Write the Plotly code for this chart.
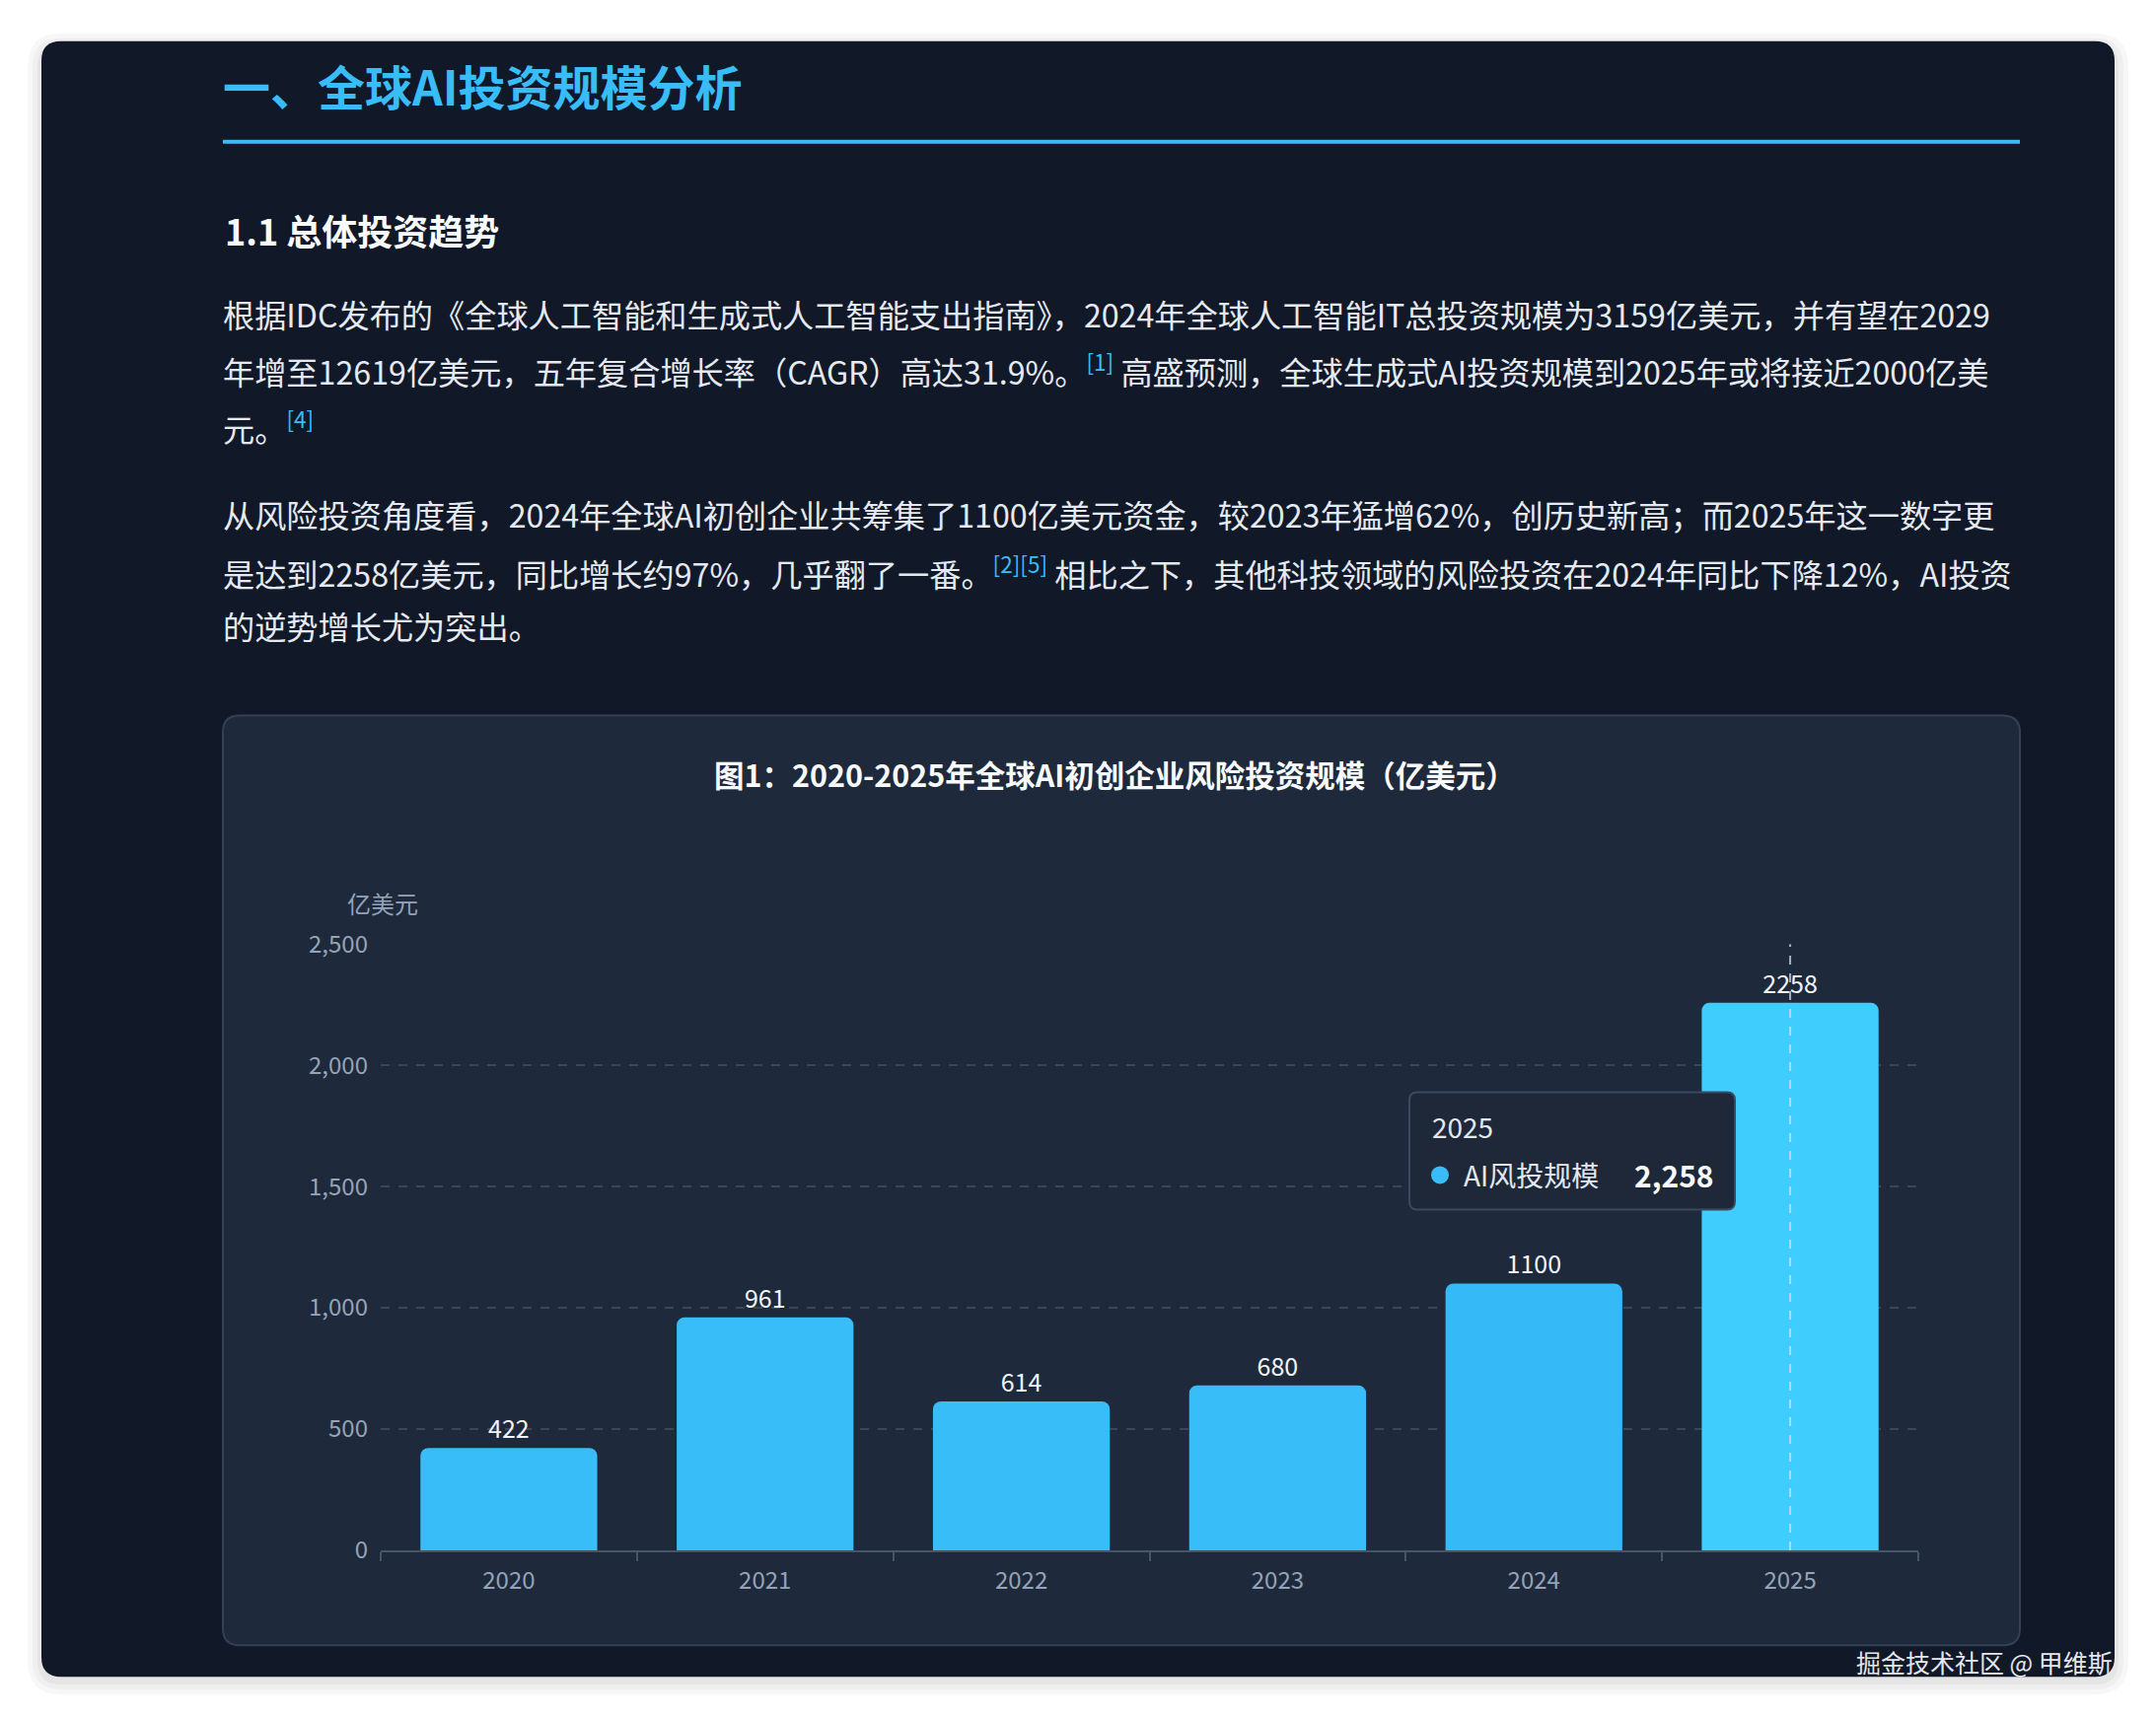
import plotly.graph_objects as go

# the page body adds an 8px margin on every side, so the figure is made
# 16px smaller than the window and the layout is shifted back by 8px
PAGE_W, PAGE_H = 2186, 1742
OFF = 8
W, H = PAGE_W - 2 * OFF, PAGE_H - 2 * OFF
# vertical correction measured from the rendered page
Y_SHIFT, Y_SCALE = 20.35, 0.98

# chart data
years = ["2020", "2021", "2022", "2023", "2024", "2025"]
values = [422, 961, 614, 680, 1100, 2258]
bar_colors = ["#38bdf8", "#38bdf8", "#38bdf8", "#38bdf8", "#36b9f7", "#3ecdfd"]
y_ticks = [0, 500, 1000, 1500, 2000, 2500]
series_name = "AI风投规模"

page_title = "一、全球AI投资规模分析"
section_title = "1.1 总体投资趋势"
chart_title = "图1：2020-2025年全球AI初创企业风险投资规模（亿美元）"
unit_label = "亿美元"
watermark = "掘金技术社区 @ 甲维斯"

BLUE = "#38bdf8"


def ref(n):
    return f"<sup><span style='color:{BLUE}'>{n}</span></sup>"


para_lines = [
    "根据IDC发布的《全球人工智能和生成式人工智能支出指南》，2024年全球人工智能IT总投资规模为3159亿美元，并有望在2029",
    "年增至12619亿美元，五年复合增长率（CAGR）高达31.9%。" + ref("[1]") + " 高盛预测，全球生成式AI投资规模到2025年或将接近2000亿美",
    "元。" + ref("[4]"),
    "从风险投资角度看，2024年全球AI初创企业共筹集了1100亿美元资金，较2023年猛增62%，创历史新高；而2025年这一数字更",
    "是达到2258亿美元，同比增长约97%，几乎翻了一番。" + ref("[2][5]") + " 相比之下，其他科技领域的风险投资在2024年同比下降12%，AI投资",
    "的逆势增长尤为突出。",
]
para_y = [318, 375, 433, 521, 580, 634]


def px(x):
    return (x - OFF) / W


def py(y):
    y = (y - Y_SHIFT) / Y_SCALE
    return 1 - (y - OFF) / H


def rounded_rect(x0, y0, x1, y1, r):
    return (f"M {px(x0 + r)},{py(y0)} L {px(x1 - r)},{py(y0)} "
            f"Q {px(x1)},{py(y0)} {px(x1)},{py(y0 + r)} "
            f"L {px(x1)},{py(y1 - r)} Q {px(x1)},{py(y1)} {px(x1 - r)},{py(y1)} "
            f"L {px(x0 + r)},{py(y1)} Q {px(x0)},{py(y1)} {px(x0)},{py(y1 - r)} "
            f"L {px(x0)},{py(y0 + r)} Q {px(x0)},{py(y0)} {px(x0 + r)},{py(y0)} Z")


fig = go.Figure()

fig.add_trace(go.Bar(
    x=years, y=values, name=series_name,
    marker=dict(color=bar_colors, cornerradius=8, line=dict(width=0)),
    text=[str(v) for v in values], textposition="outside", cliponaxis=False,
    textfont=dict(color="#f1f5f9", size=25),
    hoverinfo="skip",
))

# axis pointer on the hovered category
fig.add_trace(go.Scatter(
    x=[years[-1], years[-1]], y=[0, y_ticks[-1]], mode="lines",
    line=dict(color="rgba(210,225,240,0.75)", width=2, dash="dash"),
    hoverinfo="skip",
))

shapes = []
# card shadow
for i, a in enumerate([0.03, 0.03, 0.04]):
    g = 14 - i * 5
    shapes.append(dict(type="path", xref="paper", yref="paper", layer="below",
                       path=rounded_rect(42 - g, 42 - g + 6, 2144 + g, 1701 + g + 4, 20 + g),
                       fillcolor=f"rgba(0,0,0,{a})", line=dict(width=0)))
# dark card
shapes.append(dict(type="path", xref="paper", yref="paper", layer="below",
                   path=rounded_rect(42, 42, 2144, 1701, 20),
                   fillcolor="#111828", line=dict(width=0)))
# title underline
shapes.append(dict(type="rect", xref="paper", yref="paper", layer="below",
                   x0=px(226), x1=px(2048), y0=py(146), y1=py(142),
                   fillcolor=BLUE, line=dict(width=0)))
# chart panel
shapes.append(dict(type="path", xref="paper", yref="paper", layer="below",
                   path=rounded_rect(226, 726, 2048, 1669, 17),
                   fillcolor="#1e293b", line=dict(color="#334155", width=2)))
# tooltip box
shapes.append(dict(type="path", xref="paper", yref="paper", layer="above",
                   path=rounded_rect(1429, 1108, 1759, 1227, 8),
                   fillcolor="#1e2838", line=dict(color="#3b4a60", width=2)))
shapes.append(dict(type="circle", xref="paper", yref="paper", layer="above",
                   x0=px(1451), x1=px(1469), y0=py(1183), y1=py(1201),
                   fillcolor=BLUE, line=dict(width=0)))

FONT = "Noto Sans CJK SC, Noto Sans, sans-serif"
annotations = [
    dict(text=f"<b>{page_title}</b>", x=px(224), y=py(86), font=dict(size=48, color=BLUE)),
    dict(text=f"<b>{section_title}</b>", x=px(226), y=py(233), font=dict(size=36, color="#f8fafc")),
    dict(text=f"<b>{chart_title}</b>", x=px(1130), y=py(785), xanchor="center",
         font=dict(size=30.5, color="#f8fafc")),
    dict(text=unit_label, x=px(388), y=py(916), xanchor="center", font=dict(size=24, color="#94a3b8")),
    dict(text=years[-1], x=px(1450), y=py(1143), font=dict(size=28, color="#e2e8f0")),
    dict(text=series_name, x=px(1482), y=py(1192), font=dict(size=28, color="#e2e8f0")),
    dict(text=f"<b>{values[-1]:,}</b>", x=px(1740), y=py(1192), xanchor="right",
         font=dict(size=30, color="#f8fafc")),
    dict(text=watermark, x=px(2144), y=py(1686), xanchor="right", font=dict(size=25, color="#e5e7eb")),
]
for line, yy in zip(para_lines, para_y):
    annotations.append(dict(text=line, x=px(224), y=py(yy), font=dict(size=32.2, color="#e5e9f0")))
for a in annotations:
    a.setdefault("xanchor", "left")
    a.update(xref="paper", yref="paper", yanchor="middle", showarrow=False)

fig.update_layout(
    width=W, height=H, autosize=False,
    margin=dict(l=0, r=0, t=0, b=0),
    paper_bgcolor="#ffffff", plot_bgcolor="rgba(0,0,0,0)",
    font=dict(family=FONT),
    showlegend=False,
    bargap=0.31,
    shapes=shapes,
    annotations=annotations,
    xaxis=dict(
        domain=[px(386), px(1945)], type="category",
        showgrid=False, showline=True, linecolor="#475569", linewidth=2,
        ticks="outside", tickson="boundaries", ticklen=9, tickcolor="#475569", tickwidth=2,
        tickfont=dict(size=24, color="#94a3b8"), ticklabelstandoff=8, fixedrange=True,
    ),
    yaxis=dict(
        domain=[py(1572.6), py(957.7)], range=[0, y_ticks[-1]],
        tickvals=y_ticks, tickformat=",", showline=False, zeroline=False,
        gridcolor="#3b4658", griddash="dash", gridwidth=1.5,
        tickfont=dict(size=24, color="#94a3b8"), ticklabelstandoff=12, fixedrange=True,
    ),
)

fig.write_html("out.html")
